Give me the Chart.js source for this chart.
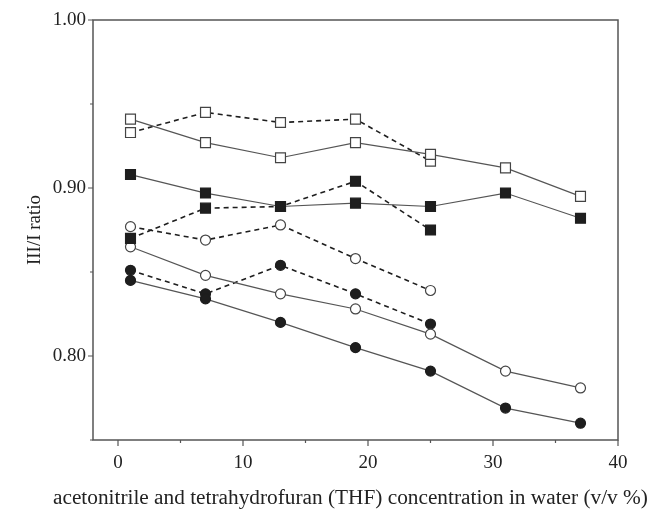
<!DOCTYPE html>
<html>
<head>
<meta charset="utf-8">
<script src="https://cdn.jsdelivr.net/npm/chart.js@4.4.0/dist/chart.umd.min.js"></script>
<style>
  html, body { margin: 0; padding: 0; background: #fff; }
  #wrap { position: relative; width: 649px; height: 510px; }
</style>
</head>
<body>
<div id="wrap"><canvas id="chart" width="649" height="510"></canvas></div>
<script>
// concentration (v/v %)
const concAll = [1, 7, 13, 19, 25, 31, 37];
const concShort = [1, 7, 13, 19, 25];

// III/I ratio values
const openSquareSolid = [0.941, 0.927, 0.918, 0.927, 0.920, 0.912, 0.895];
const openSquareDashed = [0.933, 0.945, 0.939, 0.941, 0.916];
const filledSquareSolid = [0.908, 0.897, 0.889, 0.891, 0.889, 0.897, 0.882];
const filledSquareDashed = [0.870, 0.888, 0.889, 0.904, 0.875];
const openCircleSolid = [0.865, 0.848, 0.837, 0.828, 0.813, 0.791, 0.781];
const openCircleDashed = [0.877, 0.869, 0.878, 0.858, 0.839];
const filledCircleSolid = [0.845, 0.834, 0.820, 0.805, 0.791, 0.769, 0.760];
const filledCircleDashed = [0.851, 0.837, 0.854, 0.837, 0.819];

const xTicks = [0, 5, 10, 15, 20, 25, 30, 35, 40];
const yTicks = [0.75, 0.80, 0.85, 0.90, 0.95, 1.00];
const xTitle = "acetonitrile and tetrahydrofuran (THF) concentration in water (v/v %)";
const yTitle = "III/I ratio";

const FONT = "'Liberation Serif', 'DejaVu Serif', serif";
const SOLID = "#555";
const DASH = "#1e1e1e";

function toPoints(xs, ys) {
  return ys.map((v, i) => ({ x: xs[i], y: v }));
}

function series(xs, ys, style, filled, dashed) {
  return {
    data: toPoints(xs, ys),
    borderColor: dashed ? DASH : SOLID,
    borderWidth: dashed ? 1.6 : 1.2,
    borderDash: dashed ? [5, 4] : [],
    pointStyle: style,
    pointRadius: style === "rect" ? 7 : 5,
    pointHoverRadius: style === "rect" ? 7 : 5,
    pointBackgroundColor: filled ? "#1e1e1e" : "#fff",
    pointBorderColor: filled ? "#1e1e1e" : "#444",
    pointBorderWidth: 1.2,
    tension: 0,
    fill: false,
  };
}

const frame = {
  id: "frame",
  afterDraw(chart) {
    const { ctx, chartArea: a, scales } = chart;
    ctx.save();
    ctx.strokeStyle = "#555";
    ctx.lineWidth = 1.5;
    ctx.strokeRect(a.left, a.top, a.right - a.left, a.bottom - a.top);

    ctx.lineWidth = 1.2;
    ctx.beginPath();
    xTicks.forEach(t => {
      const px = scales.x.getPixelForValue(t);
      const len = t % 10 === 0 ? 6 : 3;
      ctx.moveTo(px, a.bottom);
      ctx.lineTo(px, a.bottom + len);
    });
    yTicks.forEach(t => {
      const py = scales.y.getPixelForValue(t);
      const major = Math.round(t * 100) % 10 === 0;
      ctx.moveTo(a.left, py);
      ctx.lineTo(a.left - (major ? 5 : 3), py);
    });
    ctx.stroke();

    ctx.fillStyle = "#222";
    ctx.textBaseline = "alphabetic";

    // x title: stretch font so the line spans x 53..648 like the figure
    ctx.font = "19px " + FONT;
    const w = ctx.measureText(xTitle).width;
    const size = Math.min(22, 19 * 595 / w);
    ctx.font = size.toFixed(2) + "px " + FONT;
    ctx.textAlign = "left";
    ctx.fillText(xTitle, 53, 504);

    ctx.font = "19px " + FONT;
    ctx.textAlign = "center";
    ctx.translate(40, (a.top + a.bottom) / 2);
    ctx.rotate(-Math.PI / 2);
    ctx.fillText(yTitle, 0, 0);
    ctx.restore();
  }
};

new Chart(document.getElementById("chart"), {
  type: "line",
  data: {
    datasets: [
      series(concAll, openSquareSolid, "rect", false, false),
      series(concShort, openSquareDashed, "rect", false, true),
      series(concAll, filledSquareSolid, "rect", true, false),
      series(concShort, filledSquareDashed, "rect", true, true),
      series(concAll, openCircleSolid, "circle", false, false),
      series(concShort, openCircleDashed, "circle", false, true),
      series(concAll, filledCircleSolid, "circle", true, false),
      series(concShort, filledCircleDashed, "circle", true, true),
    ],
  },
  options: {
    responsive: false,
    animation: false,
    layout: { padding: { left: 0, top: 20, right: 31, bottom: 0 } },
    plugins: { legend: { display: false }, tooltip: { enabled: false } },
    scales: {
      x: {
        type: "linear",
        min: -2,
        max: 40,
        afterBuildTicks: s => { s.ticks = xTicks.map(v => ({ value: v })); },
        afterFit: s => { s.height = 70; },
        grid: { display: false, drawTicks: false },
        border: { display: false },
        ticks: {
          padding: 12,
          color: "#222",
          font: { family: FONT, size: 19 },
          maxRotation: 0,
          callback: v => (v % 10 === 0 ? String(v) : ""),
        },
      },
      y: {
        min: 0.75,
        max: 1.0,
        afterBuildTicks: s => { s.ticks = yTicks.map(v => ({ value: v })); },
        afterFit: s => { s.width = 93; },
        grid: { display: false, drawTicks: false },
        border: { display: false },
        ticks: {
          padding: 7,
          color: "#222",
          font: { family: FONT, size: 19 },
          callback: v => (Math.round(v * 100) % 10 === 0 ? v.toFixed(2) : ""),
        },
      },
    },
  },
  plugins: [frame],
});
</script>
</body>
</html>
